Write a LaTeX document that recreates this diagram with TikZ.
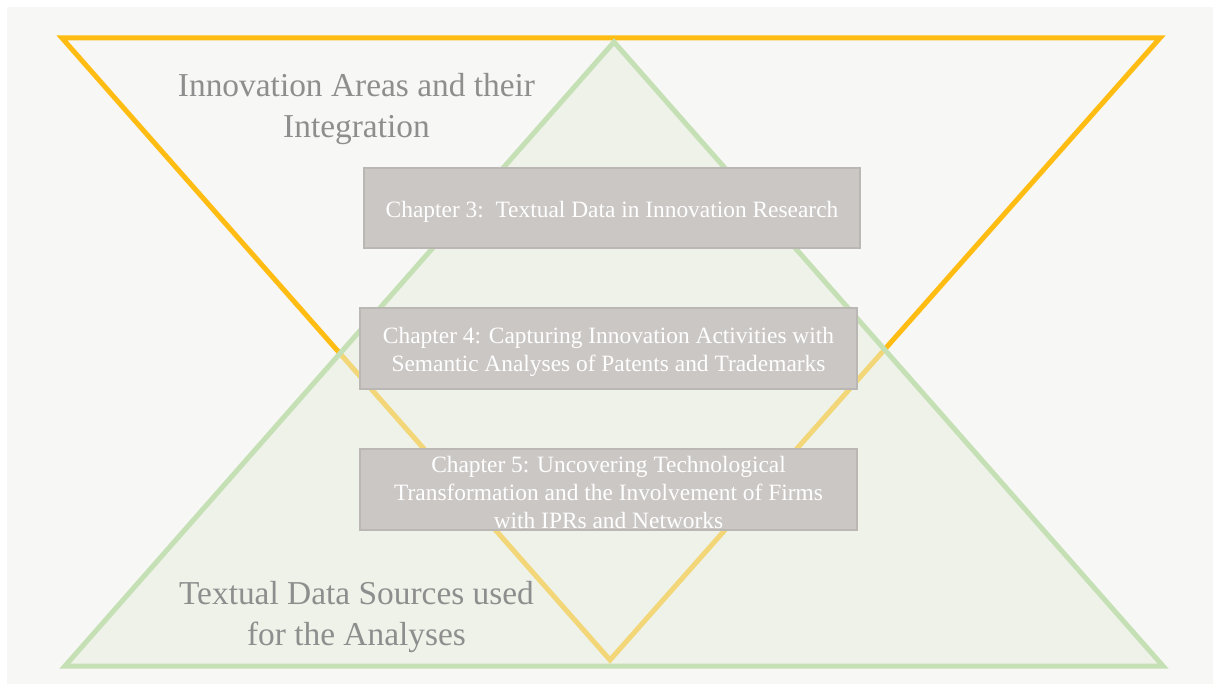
\documentclass[tikz,border=0pt]{standalone}
\usepackage{fontspec}
\setmainfont{Liberation Serif}
\definecolor{bgc}{HTML}{F7F7F5}
\definecolor{gold}{HTML}{FFBD14}
\definecolor{greenline}{HTML}{C5E0B4}
\definecolor{greenfill}{HTML}{E6EFDC}
\definecolor{boxfill}{HTML}{CBC7C5}
\definecolor{boxline}{HTML}{BAB7B5}
\definecolor{labelgray}{HTML}{8E8E8E}
\tikzset{
  chapterbox/.style={draw=boxline, line width=1.8pt, fill=boxfill,
    minimum width=497pt, minimum height=81pt, inner sep=0pt},
  chaptertext/.style={text=white, inner sep=0pt, align=center,
    font=\fontsize{23.4}{28}\selectfont},
  biglabel/.style={text=labelgray, align=center, inner sep=0pt,
    font=\fontsize{33.4}{41}\selectfont},
  tri/.style={line width=5pt, line join=miter}
}
\begin{document}
\begin{tikzpicture}[x=1pt, y=-1pt]
\useasboundingbox (0,0) rectangle (1213,684);
\fill[white] (0,0) rectangle (1213,684);
\fill[bgc] (7,7) rectangle (1213,684);
% orange inverted triangle
\coordinate (o1) at (62,38);
\coordinate (o2) at (1160,38);
\coordinate (o3) at (610,660);
\draw[tri, draw=gold] (o1) -- (o2) -- (o3) -- cycle;
% green triangle
\coordinate (g1) at (614,42);
\coordinate (g2) at (1163,666);
\coordinate (g3) at (65,666);
\fill[greenfill, fill opacity=0.5] (g1) -- (g2) -- (g3) -- cycle;
\draw[tri, draw=greenline] (g1) -- (g2) -- (g3) -- cycle;
% labels
\node[biglabel] (top) at (356.5,109) {Innovation Areas and their\\Integration};
\node[biglabel] (bot) at (356.5,617) {Textual Data Sources used\\for the Analyses};
% boxes
\node[chapterbox, minimum width=496pt, minimum height=80pt] (c3) at (612,208) {};
\node[chapterbox] (c4) at (608.5,348.5) {};
\node[chapterbox] (c5) at (608.5,489.5) {};
\node[chaptertext] (c3t) at ([yshift=-4pt]c3.center)
  {Chapter 3:\ \ Textual Data in Innovation Research};
\node[chaptertext] (c4t) at ([yshift=-3pt]c4.center)
  {Chapter 4: Capturing Innovation Activities with\\Semantic Analyses of Patents and Trademarks};
\node[chaptertext] (c5t) at ([yshift=-3pt]c5.center)
  {Chapter 5: Uncovering Technological\\Transformation and the Involvement of Firms\\with IPRs and Networks};
\end{tikzpicture}
\end{document}
